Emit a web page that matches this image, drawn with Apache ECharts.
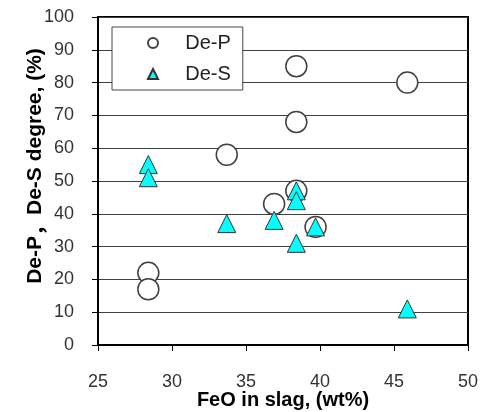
<!DOCTYPE html>
<html>
<head>
<meta charset="utf-8">
<script src="https://cdn.jsdelivr.net/npm/echarts@6/dist/echarts.min.js"></script>
<style>
  html, body { margin: 0; padding: 0; background: #fff; }
  #chart { width: 482px; height: 412px; }
</style>
</head>
<body>
<div id="chart"></div>
<script>
// FeO in slag (wt%) and De-P degree (%)
const deP_FeO = [28.4, 28.4, 33.7, 36.9, 38.4, 38.4, 38.4, 39.7, 45.9];
const deP_Val = [22, 17, 58, 43, 85, 68, 47, 36, 80];
// FeO in slag (wt%) and De-S degree (%)
const deS_FeO = [28.4, 28.4, 33.7, 36.9, 38.4, 38.4, 38.4, 39.7, 45.9];
const deS_Val = [55, 51, 37, 38, 47, 44, 31, 36, 11];

const seriesNames = ['De-P', 'De-S'];
const xTitle = 'FeO in slag, (wt%)';
const yTitleParts = ['De-P', '，', 'De-S degree, (%)'];

const font = 'Arial, "Liberation Sans", sans-serif';

const chart = echarts.init(document.getElementById('chart'), null, { renderer: 'canvas' });
chart.setOption({
  animation: false,
  backgroundColor: '#fff',
  grid: {
    left: 98, right: 14, top: 17, bottom: 67,
    show: true, borderColor: '#000', borderWidth: 2,
    containLabel: false, outerBoundsMode: 'none'
  },
  legend: {
    data: [
      { name: seriesNames[0], icon: 'circle' },
      { name: seriesNames[1], icon: 'triangle' }
    ],
    formatter: n => '    ' + n,
    orient: 'vertical',
    left: 112, top: 27,
    padding: [5, 12, 5, 35],
    itemGap: 9,
    itemWidth: 10, itemHeight: 10,
    backgroundColor: '#fff',
    borderColor: '#444', borderWidth: 1,
    textStyle: { fontFamily: font, fontSize: 20, color: '#222', lineHeight: 22 }
  },
  xAxis: {
    type: 'value', min: 25, max: 50, interval: 5,
    name: xTitle, nameLocation: 'middle', nameGap: 45, nameMoveOverlap: false,
    nameTextStyle: { fontFamily: font, fontSize: 20, fontWeight: 'bold', color: '#000' },
    axisLine: { show: true, onZero: false, lineStyle: { color: '#000', width: 2 } },
    axisTick: { show: true, length: 6, lineStyle: { color: '#000', width: 1 } },
    axisLabel: { fontFamily: font, fontSize: 18, color: '#333', margin: 28 },
    splitLine: { show: false }
  },
  yAxis: {
    type: 'value', min: 0, max: 100, interval: 10,
    name: '{a|' + yTitleParts[0] + '}{c|' + yTitleParts[1] + '}{a|' + yTitleParts[2] + '}',
    nameLocation: 'middle', nameGap: 52, nameMoveOverlap: false,
    nameTextStyle: {
      fontFamily: font, fontSize: 21, fontWeight: 'bold', color: '#000', padding: [0, 0, 0, 30],
      rich: {
        a: { fontFamily: font, fontSize: 21, fontWeight: 'bold', color: '#000' },
        c: { fontFamily: '"Noto Sans CJK JP"', fontSize: 21, fontWeight: 'bold', color: '#000' }
      }
    },
    axisLine: { show: true, onZero: false, lineStyle: { color: '#000', width: 2 } },
    axisTick: { show: true, length: 6, lineStyle: { color: '#000', width: 1 } },
    axisLabel: { fontFamily: font, fontSize: 18, color: '#333', margin: 24 },
    splitLine: { show: true, lineStyle: { color: '#404040', width: 1 } }
  },
  series: [
    {
      name: seriesNames[0], type: 'scatter', symbol: 'circle', symbolSize: 21,
      itemStyle: { color: '#fff', borderColor: '#404040', borderWidth: 1.5, opacity: 1 },
      data: deP_FeO.map((x, i) => [x, deP_Val[i]]),
      z: 2
    },
    {
      name: seriesNames[1], type: 'scatter', symbol: 'triangle', symbolSize: 18,
      itemStyle: { color: '#00FFFF', borderColor: '#333', borderWidth: 1, opacity: 1 },
      data: deS_FeO.map((x, i) => [x, deS_Val[i]]),
      z: 3
    }
  ]
});
</script>
</body>
</html>
